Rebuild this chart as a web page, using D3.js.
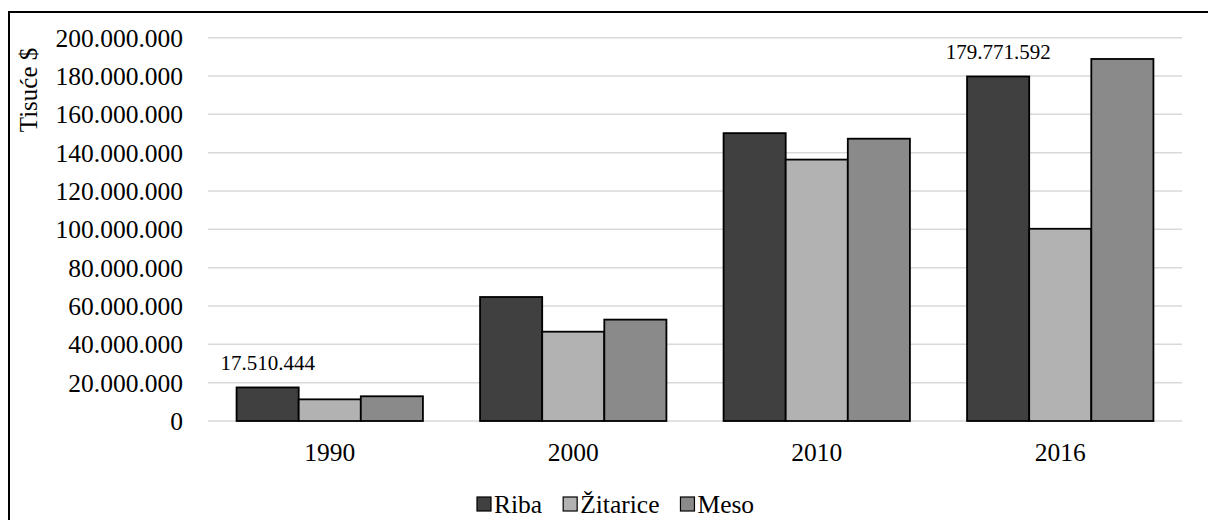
<!DOCTYPE html>
<html>
<head>
<meta charset="utf-8">
<script src="https://cdn.jsdelivr.net/npm/d3@7"></script>
<style>
  body { margin: 0; background: #fff; }
  svg { display: block; }
  svg text { font-family: 'Liberation Serif', 'Times New Roman', Times, serif; fill: #000; }
</style>
</head>
<body>
<svg id="chart" width="1208" height="520"></svg>
<script>
// data
var years = ['1990', '2000', '2010', '2016'];
var seriesNames = ['Riba', 'Žitarice', 'Meso'];
var riba = [17510444, 64700000, 150200000, 179771592];
var zitarice = [11300000, 46600000, 136400000, 100300000];
var meso = [12900000, 52900000, 147300000, 188900000];
var yTicks = [0, 20000000, 40000000, 60000000, 80000000, 100000000, 120000000, 140000000, 160000000, 180000000, 200000000];
// only these two values carry a label in the picture
var labelled = [{ year: '1990', value: riba[0] }, { year: '2016', value: riba[3] }];

var colors = ['#404040', '#b2b2b2', '#8a8a8a'];
var values = [riba, zitarice, meso];
var serif = "'Liberation Serif', 'Times New Roman', serif";
var big = 25.5;

var svg = d3.select('#chart');
var fmt = function (v) {
    return d3.format(',')(v).replace(/,/g, '.');
};

// outer frame (cut off at the right and bottom like the original)
svg.append('rect')
    .attr('x', 9).attr('y', 12)
    .attr('width', 1260).attr('height', 560)
    .attr('fill', 'none').attr('stroke', '#000').attr('stroke-width', 2);

var x0 = d3.scaleBand().domain(years).range([208, 1182]).padding(0);
var x1 = d3.scaleBand().domain(seriesNames).range([0, x0.bandwidth()]).paddingInner(0).paddingOuter(0.46);
var y = d3.scaleLinear().domain([0, 200000000]).range([421, 37.7]);

// gridlines
svg.append('g').selectAll('line').data(yTicks).enter().append('line')
    .attr('x1', 208).attr('x2', 1182)
    .attr('y1', function (d) { return y(d); })
    .attr('y2', function (d) { return y(d); })
    .attr('stroke', '#d9d9d9').attr('stroke-width', 1.5);

// y tick labels
svg.append('g').selectAll('text').data(yTicks).enter().append('text')
    .attr('x', 183)
    .attr('y', function (d) { return y(d); })
    .attr('dy', '0.35em')
    .attr('text-anchor', 'end')
    .attr('font-family', serif)
    .attr('font-size', big)
    .text(fmt);

// y title
svg.append('text')
    .attr('transform', 'translate(37,90) rotate(-90)')
    .attr('text-anchor', 'middle')
    .attr('font-family', serif)
    .attr('font-size', 25)
    .text('Tisuće $');

// bars
var groups = svg.append('g').selectAll('g').data(years).enter().append('g')
    .attr('transform', function (d) { return 'translate(' + x0(d) + ',0)'; });

groups.selectAll('rect')
    .data(function (d, i) {
        return seriesNames.map(function (s, j) { return { s: s, j: j, v: values[j][i] }; });
    })
    .enter().append('rect')
    .attr('x', function (d) { return x1(d.s); })
    .attr('y', function (d) { return y(d.v); })
    .attr('width', x1.bandwidth())
    .attr('height', function (d) { return y(0) - y(d.v); })
    .attr('fill', function (d) { return colors[d.j]; })
    .attr('stroke', '#000').attr('stroke-width', 1.8);

// data labels
svg.append('g').selectAll('text').data(labelled).enter().append('text')
    .attr('x', function (d) { return x0(d.year) + x1('Riba') + x1.bandwidth() / 2; })
    .attr('y', function (d) { return y(d.value) - 17; })
    .attr('text-anchor', 'middle')
    .attr('font-family', serif)
    .attr('font-size', 21)
    .text(function (d) { return fmt(d.value); });

// category labels
svg.append('g').selectAll('text').data(years).enter().append('text')
    .attr('x', function (d) { return x0(d) + x0.bandwidth() / 2; })
    .attr('y', 461)
    .attr('text-anchor', 'middle')
    .attr('font-family', serif)
    .attr('font-size', big)
    .text(function (d) { return d; });

// legend
var legend = svg.append('g').attr('transform', 'translate(477,0)');
var lx = 0;
seriesNames.forEach(function (s, i) {
    var g = legend.append('g').attr('transform', 'translate(' + lx + ',0)');
    g.append('rect')
        .attr('x', 0).attr('y', 497)
        .attr('width', 14).attr('height', 14)
        .attr('fill', colors[i]).attr('stroke', '#000').attr('stroke-width', 1.2);
    var t = g.append('text')
        .attr('x', 17).attr('y', 513)
        .attr('font-family', serif)
        .attr('font-size', big)
        .text(s);
    lx += 17 + t.node().getComputedTextLength() + 21;
});
</script>
</body>
</html>
